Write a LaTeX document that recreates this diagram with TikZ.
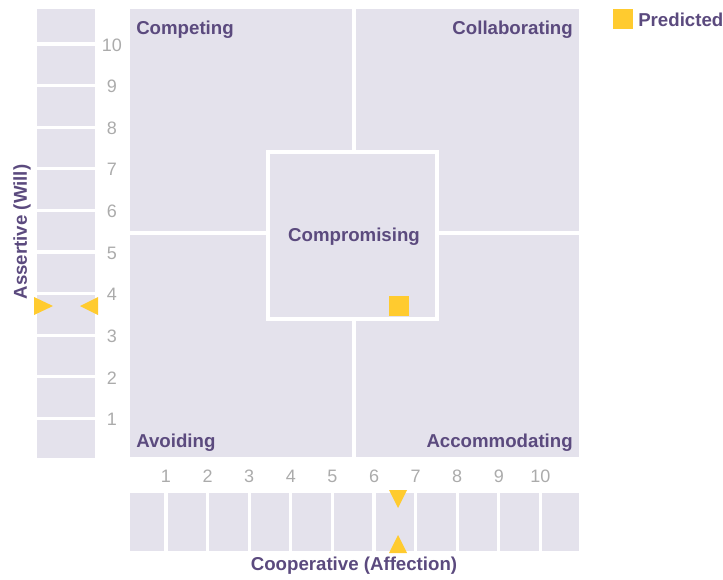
\documentclass[tikz,border=0pt]{standalone}
\usepackage{fontspec}
\setmainfont{Liberation Sans}
\usepackage[HTML]{xcolor}
\usepackage{tikz}
\usetikzlibrary{positioning}
\definecolor{panel}{HTML}{E4E2EC}
\definecolor{ink}{HTML}{5B4A7E}
\definecolor{mark}{HTML}{FFCB2F}
\definecolor{tick}{HTML}{ABABAB}
\begin{document}
\begin{tikzpicture}[x=0.75pt, y=-0.75pt,
  every node/.style={font=\fontsize{14}{16}\selectfont\bfseries, text=ink, inner sep=0pt},
  divider/.style={white, line width=2.4pt},
  marker/.style={fill=mark, draw=none},
  numlabel/.style={font=\fontsize{13.5}{15}\selectfont, text=tick}]
\useasboundingbox (0,0) rectangle (723,579);
% panels
\fill[panel] (130,9) rectangle (579,457);
\fill[panel] (37,9) rectangle (95,458);
\fill[panel] (130,493) rectangle (579,551);
% quadrant dividers and centre box
\draw[divider] (354,9) -- (354,152);
\draw[divider] (354,319) -- (354,457);
\draw[divider] (130,233) -- (268,233);
\draw[divider] (437,233) -- (579,233);
\draw[divider] (268,152) rectangle (437,319);
% scales
\foreach \v in {1,...,10} {
  \draw[divider] (37,460-41.6*\v) -- (95,460-41.6*\v);
  \draw[divider] (124.4+41.6*\v,493) -- (124.4+41.6*\v,551);
  \node[numlabel] (y\v) at (112,461-41.6*\v) {\v};
  \node[numlabel] (x\v) at (124.4+41.6*\v,476) {\v};
}
% quadrant names
\node[anchor=west] (competing) at (136,30) {Competing};
\node[anchor=east] (collab) at (573,30) {Collaborating};
\node[anchor=west] (avoiding) at (136,443) {Avoiding};
\node[anchor=east] (accom) at (573,443) {Accommodating};
\node (compromise) at (354,237) {Compromising};
% axis names
\node[rotate=90] (assertive) at (22,232) {Assertive (Will)};
\node (cooperative) at (354,566) {Cooperative (Affection)};
% predicted position
\fill[marker] (389,296) rectangle (409,316);
\fill[marker] (34,297) -- (53,306) -- (34,315) -- cycle;
\fill[marker] (98,297) -- (80,306) -- (98,315) -- cycle;
\fill[marker] (389,490) -- (407,490) -- (398,508) -- cycle;
\fill[marker] (389,553) -- (407,553) -- (398,535) -- cycle;
% legend
\fill[marker] (613,9) rectangle (633,29);
\node[anchor=west] (predicted) at (638,20) {Predicted};
\end{tikzpicture}
\end{document}
